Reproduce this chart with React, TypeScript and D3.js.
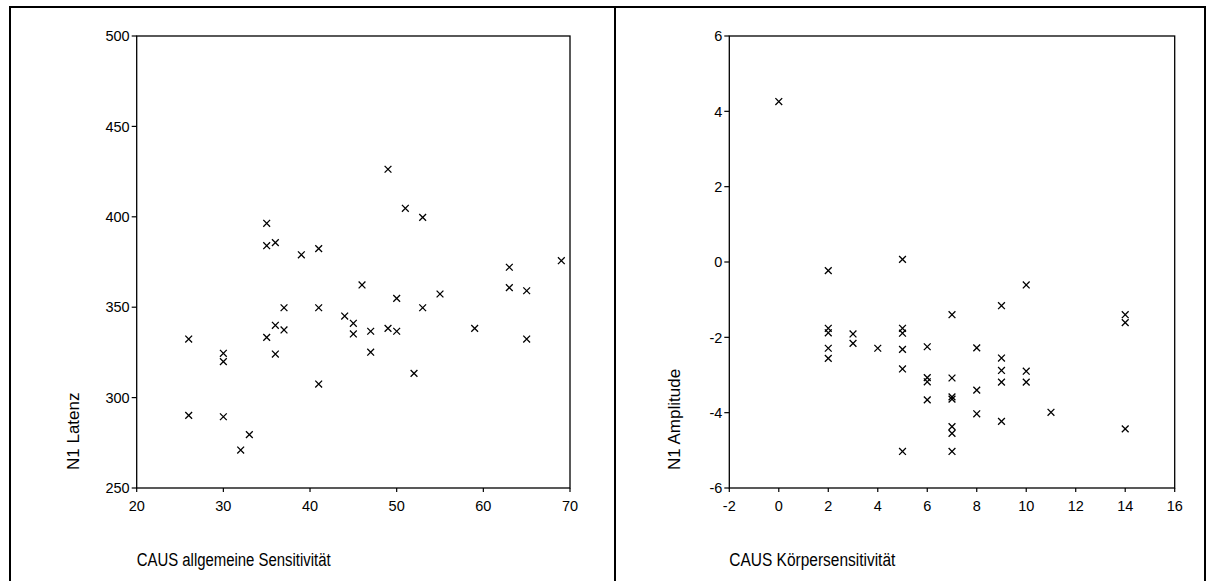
import React from "react";
import * as d3 from "d3";

// Left panel: CAUS allgemeine Sensitivität vs N1 Latenz
const leftX = [49, 51, 53, 35, 35, 36, 39, 41, 63, 69, 26, 30, 30, 35, 36, 37, 37, 36, 41, 41, 44, 45, 45, 46, 47, 47, 49, 50, 50, 52, 53, 55, 59, 63, 65, 65, 26, 30, 33, 32];
const leftY = [426.3, 404.7, 399.7, 396.4, 384.0, 385.7, 379.0, 382.4, 372.1, 375.7, 332.4, 324.5, 319.9, 333.3, 340.0, 349.7, 337.4, 324.1, 349.7, 307.5, 345.1, 341.1, 335.2, 362.3, 336.7, 325.1, 338.3, 354.9, 336.7, 313.4, 349.7, 357.3, 338.3, 360.8, 359.1, 332.4, 290.2, 289.4, 279.5, 271.0];
const leftXTicks = [20, 30, 40, 50, 60, 70];
const leftYTicks = [250, 300, 350, 400, 450, 500];

// Right panel: CAUS Körpersensitivität vs N1 Amplitude
const rightX = [0, 2, 5, 10, 9, 7, 14, 14, 2, 2, 3, 3, 5, 5, 2, 2, 4, 5, 6, 8, 9, 5, 6, 6, 7, 9, 9, 10, 10, 8, 6, 7, 7, 8, 11, 9, 7, 7, 14, 5, 7];
const rightY = [4.26, -0.23, 0.07, -0.61, -1.16, -1.40, -1.40, -1.61, -1.76, -1.88, -1.91, -2.16, -1.76, -1.89, -2.29, -2.56, -2.29, -2.32, -2.25, -2.28, -2.55, -2.84, -3.07, -3.18, -3.08, -2.88, -3.19, -2.90, -3.19, -3.40, -3.66, -3.58, -3.64, -4.03, -3.99, -4.23, -4.37, -4.55, -4.43, -5.03, -5.03];
const rightXTicks = [-2, 0, 2, 4, 6, 8, 10, 12, 14, 16];
const rightYTicks = [-6, -4, -2, 0, 2, 4, 6];

const FONT = "Arial, 'Liberation Sans', Helvetica, sans-serif";

type PanelProps = {
  xs: number[];
  ys: number[];
  xTicks: number[];
  yTicks: number[];
  x0: number;
  x1: number;
  y0: number;
  y1: number;
  xTitle: string;
  xTitleLen: number;
  yTitle: string;
  yTitleX: number;
};

function Panel(p: PanelProps) {
  const x = d3
    .scaleLinear()
    .domain([p.xTicks[0], p.xTicks[p.xTicks.length - 1]])
    .range([p.x0, p.x1]);
  const y = d3
    .scaleLinear()
    .domain([p.yTicks[0], p.yTicks[p.yTicks.length - 1]])
    .range([p.y1, p.y0]);
  const s = 3.4;
  return (
    <g>
      <rect
        x={p.x0}
        y={p.y0}
        width={p.x1 - p.x0}
        height={p.y1 - p.y0}
        fill="none"
        stroke="#000"
        strokeWidth={1.3}
      />
      {p.yTicks.map((t) => (
        <g key={"y" + t}>
          <line x1={p.x0 - 5} x2={p.x0} y1={y(t)} y2={y(t)} stroke="#000" strokeWidth={1.2} />
          <text
            x={p.x0 - 7}
            y={y(t)}
            dy="0.36em"
            textAnchor="end"
            fontSize={14.5}
            fontFamily={FONT}
            fill="#000"
          >
            {t}
          </text>
        </g>
      ))}
      {p.xTicks.map((t) => (
        <g key={"x" + t}>
          <line x1={x(t)} x2={x(t)} y1={p.y1} y2={p.y1 + 4} stroke="#000" strokeWidth={1.2} />
          <text
            x={x(t)}
            y={p.y1 + 23}
            textAnchor="middle"
            fontSize={14.5}
            fontFamily={FONT}
            fill="#000"
          >
            {t}
          </text>
        </g>
      ))}
      {p.xs.map((xv, i) => {
        const cx = x(xv);
        const cy = y(p.ys[i]);
        return (
          <path
            key={i}
            d={`M${cx - s},${cy - s}L${cx + s},${cy + s}M${cx - s},${cy + s}L${cx + s},${cy - s}`}
            stroke="#000"
            strokeWidth={1.3}
            fill="none"
          />
        );
      })}
      <text
        x={p.x0}
        y={566}
        fontSize={18}
        fontFamily={FONT}
        fill="#000"
        textLength={p.xTitleLen}
        lengthAdjust="spacingAndGlyphs"
      >
        {p.xTitle}
      </text>
      <text
        transform={`translate(${p.yTitleX},${p.y1 - 18}) rotate(-90)`}
        fontSize={17}
        fontFamily={FONT}
        fill="#000"
      >
        {p.yTitle}
      </text>
    </g>
  );
}

export default function App() {
  return (
    <div style={{ position: "absolute", left: 0, top: 0 }}>
      <svg width={1215} height={581} style={{ display: "block", background: "#fff" }}>
        <rect x={0} y={0} width={1215} height={581} fill="#fff" />
        <line x1={10} x2={10} y1={6} y2={581} stroke="#000" strokeWidth={2} />
        <line x1={10} x2={1205} y1={7} y2={7} stroke="#000" strokeWidth={2} />
        <line x1={1205} x2={1205} y1={6} y2={581} stroke="#000" strokeWidth={2} />
        <line x1={615} x2={615} y1={6} y2={581} stroke="#000" strokeWidth={2} />
        <Panel
          xs={leftX}
          ys={leftY}
          xTicks={leftXTicks}
          yTicks={leftYTicks}
          x0={136.7}
          x1={570}
          y0={36}
          y1={488}
          xTitle="CAUS allgemeine Sensitivität"
          xTitleLen={194}
          yTitle="N1 Latenz"
          yTitleX={79}
        />
        <Panel
          xs={rightX}
          ys={rightY}
          xTicks={rightXTicks}
          yTicks={rightYTicks}
          x0={729.3}
          x1={1174.7}
          y0={36}
          y1={488}
          xTitle="CAUS Körpersensitivität"
          xTitleLen={166}
          yTitle="N1 Amplitude"
          yTitleX={680}
        />
      </svg>
    </div>
  );
}
